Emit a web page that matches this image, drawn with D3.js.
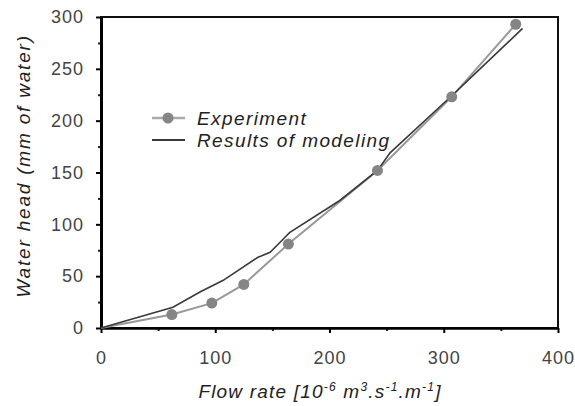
<!DOCTYPE html>
<html>
<head>
<meta charset="utf-8">
<script src="https://cdn.jsdelivr.net/npm/d3@7"></script>
<style>
  body { margin: 0; background: #fff; }
  svg { display: block; font-family: "Liberation Sans", Arial, sans-serif; }
</style>
</head>
<body>
<script>
// experiment points
var expX = [62, 97, 125, 164, 242, 307, 363];
var expY = [13, 24, 42, 81, 152, 223, 293];

// model curve
var modX = [0, 25, 63, 87, 107, 137, 148, 157, 165, 209, 242, 253, 307, 329, 369];
var modY = [0, 8, 20, 35, 46, 68, 73, 83, 92, 123, 152, 169, 224, 247, 289];

var xTicks = [0, 100, 200, 300, 400];
var yTicks = [0, 50, 100, 150, 200, 250, 300];
var xMinor = [50, 150, 250, 350];
var yMinor = [25, 75, 125, 175, 225, 275];
var legendNames = ["Experiment", "Results of modeling"];

var w = 575;
var h = 406;
var margin = { top: 17, right: 17, bottom: 78, left: 101 };

var svg = d3.select("body").append("svg").attr("width", w).attr("height", h);

var xScale = d3.scaleLinear().domain([0, 400]).range([margin.left, w - margin.right]);
var yScale = d3.scaleLinear().domain([0, 300]).range([h - margin.bottom, margin.top]);

// frame (top and right)
svg.append("rect")
  .attr("x", xScale(0))
  .attr("y", yScale(300))
  .attr("width", xScale(400) - xScale(0))
  .attr("height", yScale(0) - yScale(300))
  .attr("fill", "none")
  .attr("stroke", "#111")
  .attr("stroke-width", 2);

// minor ticks
svg.append("g")
  .attr("transform", "translate(0," + yScale(0) + ")")
  .call(d3.axisBottom(xScale).tickValues(xMinor).tickSize(3).tickFormat(""))
  .call(g => g.select(".domain").remove())
  .selectAll("line").attr("stroke", "#222").attr("stroke-width", 2);

svg.append("g")
  .attr("transform", "translate(" + xScale(0) + ",0)")
  .call(d3.axisLeft(yScale).tickValues(yMinor).tickSize(3).tickFormat(""))
  .call(g => g.select(".domain").remove())
  .selectAll("line").attr("stroke", "#222").attr("stroke-width", 2);

// x axis
var gx = svg.append("g")
  .attr("transform", "translate(0," + yScale(0) + ")")
  .call(d3.axisBottom(xScale).tickValues(xTicks).tickSize(5).tickSizeOuter(0).tickPadding(18));
gx.select(".domain").attr("stroke", "#000").attr("stroke-width", 2.5);
gx.selectAll("line").attr("stroke", "#000").attr("stroke-width", 2);
gx.selectAll("text")
  .attr("fill", "#444")
  .style("font-size", "18px")
  .style("font-family", "Liberation Sans, Arial, sans-serif")
  .style("letter-spacing", "1px");

// y axis
var gy = svg.append("g")
  .attr("transform", "translate(" + xScale(0) + ",0)")
  .call(d3.axisLeft(yScale).tickValues(yTicks).tickSize(5).tickSizeOuter(0).tickPadding(12));
gy.select(".domain").attr("stroke", "#000").attr("stroke-width", 3);
gy.selectAll("line").attr("stroke", "#000").attr("stroke-width", 2);
gy.selectAll("text")
  .attr("fill", "#444")
  .style("font-size", "18px")
  .style("font-family", "Liberation Sans, Arial, sans-serif")
  .style("letter-spacing", "1px");

// lines
var line = d3.line()
  .x(function(d) { return xScale(d[0]); })
  .y(function(d) { return yScale(d[1]); });

var expData = d3.zip(expX, expY);
var modData = d3.zip(modX, modY);

svg.append("path")
  .datum([[0, 0]].concat(expData))
  .attr("d", line)
  .attr("fill", "none")
  .attr("stroke", "#999")
  .attr("stroke-width", 2);

svg.append("path")
  .datum(modData)
  .attr("d", line)
  .attr("fill", "none")
  .attr("stroke", "#3a3a3a")
  .attr("stroke-width", 1.6);

svg.selectAll("circle.exp")
  .data(expData)
  .enter()
  .append("circle")
  .attr("class", "exp")
  .attr("cx", function(d) { return xScale(d[0]); })
  .attr("cy", function(d) { return yScale(d[1]); })
  .attr("r", 5.5)
  .attr("fill", "#858585");

// legend
var leg = svg.append("g").attr("transform", "translate(152,118)");
leg.append("line").attr("x1", 0).attr("x2", 33).attr("y1", 0).attr("y2", 0)
  .attr("stroke", "#aaa").attr("stroke-width", 2.5);
leg.append("circle").attr("cx", 16).attr("cy", 0).attr("r", 5.5).attr("fill", "#858585");
leg.append("line").attr("x1", 0).attr("x2", 33).attr("y1", 22).attr("y2", 22)
  .attr("stroke", "#3a3a3a").attr("stroke-width", 2);
leg.selectAll("text")
  .data(legendNames)
  .enter()
  .append("text")
  .attr("x", 45)
  .attr("y", function(d, i) { return i * 22 + 7; })
  .attr("fill", "#222")
  .style("font-size", "19px")
  .style("font-style", "italic")
  .style("letter-spacing", "1.4px")
  .text(function(d) { return d; });

// axis titles
var xt = svg.append("text")
  .attr("x", 320)
  .attr("y", 398)
  .attr("text-anchor", "middle")
  .attr("fill", "#222")
  .style("font-size", "19px")
  .style("font-style", "italic")
  .style("letter-spacing", "1.2px");
xt.append("tspan").text("Flow rate [10");
xt.append("tspan").attr("dy", -7).style("font-size", "12px").text("-6");
xt.append("tspan").attr("dy", 7).text(" m");
xt.append("tspan").attr("dy", -7).style("font-size", "12px").text("3");
xt.append("tspan").attr("dy", 7).text(".s");
xt.append("tspan").attr("dy", -7).style("font-size", "12px").text("-1");
xt.append("tspan").attr("dy", 7).text(".m");
xt.append("tspan").attr("dy", -7).style("font-size", "12px").text("-1");
xt.append("tspan").attr("dy", 7).text("]");

svg.append("text")
  .attr("transform", "translate(30,166) rotate(-90)")
  .attr("text-anchor", "middle")
  .attr("fill", "#222")
  .style("font-size", "19px")
  .style("font-style", "italic")
  .style("letter-spacing", "1.8px")
  .text("Water head (mm of water)");
</script>
</body>
</html>
